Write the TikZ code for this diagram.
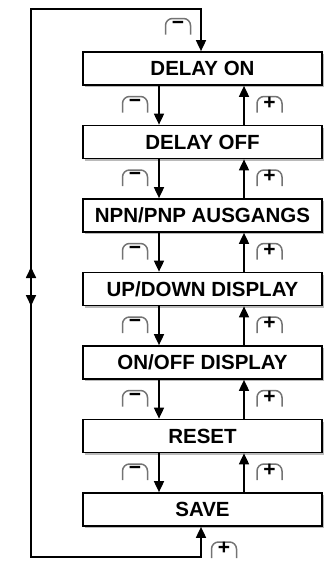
\documentclass[tikz,border=0pt]{standalone}
\usepackage{fontspec}
\setmainfont{Liberation Sans}
\usetikzlibrary{arrows.meta,shadows}
\begin{document}
\begin{tikzpicture}[x=1pt,y=-1pt,
  stepbox/.style={draw, line width=1.7pt, fill=white, minimum width=239pt, minimum height=33pt,
    inner sep=0pt, font=\bfseries\fontsize{20.5}{20.5}\selectfont,
    drop shadow={shadow xshift=2.2pt, shadow yshift=-2.2pt, opacity=0.45, fill=black!60}},
  arr/.style={line width=1.7pt, -{Triangle[length=11pt,width=10pt]}},
  dbl/.style={line width=1.7pt, {Triangle[length=11pt,width=10pt]}-{Triangle[length=11pt,width=10pt]}},
  btn/.pic={\draw[black!55, line width=1.5pt, rounded corners=7pt]
      (-12.5,8) -- (-12.5,-8) -- (12.5,-8) -- (12.5,8);
    \node[inner sep=0pt, font=\bfseries\fontsize{21}{21}\selectfont] at (0,-1.5) {#1};}
]
\useasboundingbox (0,0) rectangle (325,562);
\coordinate (dn) at (159,0);
\coordinate (up) at (244,0);
\coordinate (mid) at (201,0);
\coordinate (tl) at (31,9);
\coordinate (bl) at (31,557);

\node[stepbox] (s1) at (202.5,68.5) {DELAY ON};
\node[stepbox] (s2) at (202.5,142) {DELAY OFF};
\node[stepbox] (s3) at (202.5,215.5) {NPN/PNP AUSGANGS};
\node[stepbox] (s4) at (202.5,289) {UP/DOWN DISPLAY};
\node[stepbox] (s5) at (202.5,362.5) {ON/OFF DISPLAY};
\node[stepbox] (s6) at (202.5,436) {RESET};
\node[stepbox] (s7) at (202.5,509.5) {SAVE};

\foreach \a/\b in {s1/s2,s2/s3,s3/s4,s4/s5,s5/s6,s6/s7}{
  \draw[arr] (\a.south -| dn) -- (\b.north -| dn);
  \draw[arr] (\b.north -| up) -- (\a.south -| up);
}
\foreach \y in {104.5,178,251.5,325,398.5,472}{
  \pic at (135,\y) {btn={−}};
  \pic at (269.5,\y) {btn={+}};
}

% outer loop
\draw[dbl, line join=miter] (s7.south -| mid) -- (mid |- bl) -- (bl) -- (tl) -- (tl -| mid) -- (s1.north -| mid);
\coordinate (ua) at (31,284);
\coordinate (ub) at (31,267);
\coordinate (da) at (31,288);
\coordinate (db) at (31,306);
\draw[arr] (ua) -- (ub);
\draw[arr] (da) -- (db);

\pic at (178,26.5) {btn={−}};
\pic at (224,550) {btn={+}};
\end{tikzpicture}
\end{document}
